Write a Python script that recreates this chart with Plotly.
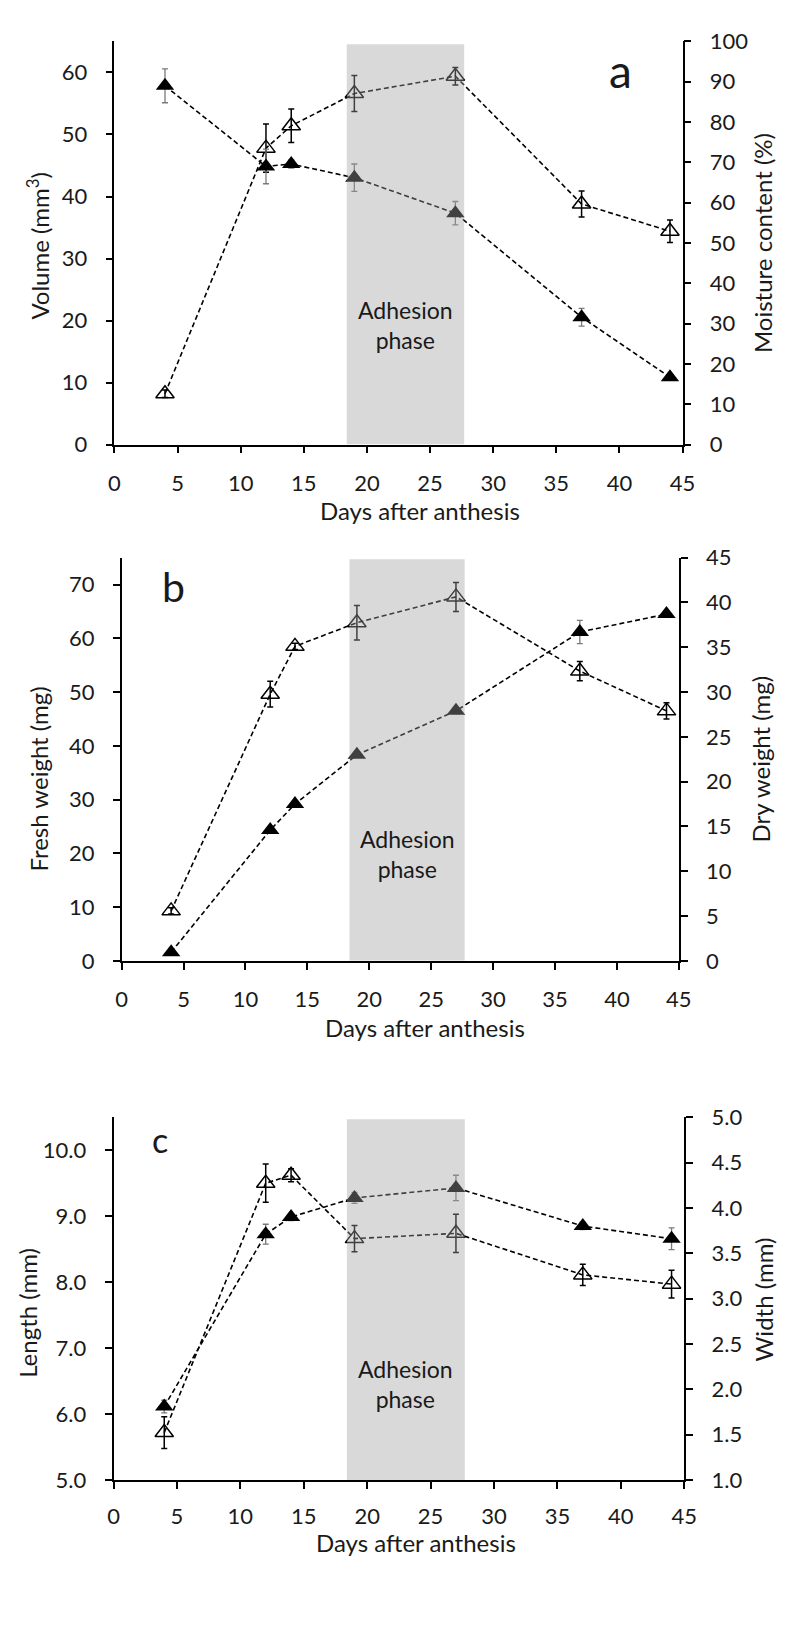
import plotly.graph_objects as go

# ---------------- data ----------------
days = [4, 12, 14, 19, 27, 37, 44]
x_ticks = [0, 5, 10, 15, 20, 25, 30, 35, 40, 45]

# panel a
volume = [8.2, 47.8, 51.4, 56.6, 59.4, 38.8, 34.4]          # open, left axis (mm3)
volume_err = [0.6, 3.9, 2.7, 2.9, 1.4, 2.1, 1.8]
moisture = [89.0, 69.0, 69.6, 66.2, 57.4, 31.6, 16.7]       # filled, right axis (%)
moisture_err = [4.2, 4.3, 1.0, 3.4, 2.9, 2.2, 0.6]

# panel b
fresh = [9.3, 49.6, 58.5, 62.9, 67.7, 53.9, 46.5]           # open, left axis (mg)
fresh_err = [0.6, 2.4, 0.6, 3.2, 2.7, 1.8, 1.5]
dry = [0.95, 14.6, 17.5, 23.0, 27.9, 36.7, 38.7]            # filled, right axis (mg)
dry_err = [0.2, 0.3, 0.3, 0.3, 0.3, 1.3, 0.3]

# panel c
length = [5.72, 9.50, 9.62, 8.66, 8.74, 8.11, 7.97]         # open, left axis (mm)
length_err = [0.24, 0.29, 0.10, 0.20, 0.29, 0.16, 0.21]
width = [1.81, 3.71, 3.90, 4.11, 4.22, 3.80, 3.66]          # filled, right axis (mm)
width_err = [0.07, 0.11, 0.04, 0.06, 0.14, 0.04, 0.12]

adhesion_phase = [18.4, 27.7]

# ---------------- page geometry ----------------
# the page body has an 8px default margin: size the figure so page == window
PAGE_W, PAGE_H = 795, 1642
OFF = 8
W, H = PAGE_W - 2 * OFF, PAGE_H - 2 * OFF
FONT = "Lato, Carlito, Calibri, 'Open Sans', sans-serif"
TXT = "#1a1a1a"


def px_y(py):
    return 1 - (py - OFF) / H


def px_x(px):
    return (px - OFF) / W


fig = go.Figure()


def add_pair(xa, ya_left, ya_right, open_y, open_err, fill_y, fill_err):
    fig.add_trace(go.Scatter(
        x=days, y=fill_y, xaxis=xa, yaxis=ya_right, mode="lines+markers",
        line=dict(color="black", width=1.6, dash="5px,3px"),
        marker=dict(symbol="triangle-up", size=16, color="black"),
        error_y=dict(type="data", array=fill_err, visible=True, color="#7a7a7a",
                     thickness=1.3, width=3),
        showlegend=False))
    fig.add_trace(go.Scatter(
        x=days, y=open_y, xaxis=xa, yaxis=ya_left, mode="lines+markers",
        line=dict(color="black", width=1.6, dash="5px,3px"),
        marker=dict(symbol="triangle-up-open", size=16, color="black",
                    line=dict(color="black", width=1.5)),
        error_y=dict(type="data", array=open_err, visible=True, color="black",
                     thickness=1.5, width=3),
        showlegend=False))


add_pair("x", "y", "y2", volume, volume_err, moisture, moisture_err)
add_pair("x2", "y3", "y4", fresh, fresh_err, dry, dry_err)
add_pair("x3", "y5", "y6", length, length_err, width, width_err)

tickfont = dict(family=FONT, size=22, color=TXT)
common_axis = dict(showgrid=False, zeroline=False, showline=True, linecolor="black",
                   linewidth=1.6, ticks="outside", ticklen=7, tickwidth=1.6,
                   tickcolor="black", tickfont=tickfont)

# panel geometry in page pixels: (x_left, x_right, y_bottom, y_top)
geo = {
    "a": (111, 693.3, 437.7, 27.8),
    "b": (118.3, 689.5, 962.7, 552.7),
    "c": (110, 695, 1490.7, 1121.7),
}


def xdom(g):
    return [px_x(g[0]), px_x(g[1])]


def ydom(g):
    return [px_y(g[2]), px_y(g[3])]


xaxis_common = dict(common_axis, range=[0, 45], tickvals=x_ticks, ticklabelstandoff=11)
yaxis_common = dict(common_axis, ticklabelstandoff=14)

fig.update_layout(
    xaxis=dict(xaxis_common, domain=xdom(geo["a"]), anchor="y"),
    yaxis=dict(yaxis_common, domain=ydom(geo["a"]), anchor="x", range=[0, 65], dtick=10, tick0=0),
    yaxis2=dict(yaxis_common, overlaying="y", side="right", anchor="x", range=[0, 100], dtick=10, tick0=0),
    xaxis2=dict(xaxis_common, domain=xdom(geo["b"]), anchor="y3"),
    yaxis3=dict(yaxis_common, domain=ydom(geo["b"]), anchor="x2", range=[0, 75], dtick=10, tick0=0),
    yaxis4=dict(yaxis_common, overlaying="y3", side="right", anchor="x2", range=[0, 45], dtick=5, tick0=0),
    xaxis3=dict(xaxis_common, domain=xdom(geo["c"]), anchor="y5", ticklabelstandoff=9),
    yaxis5=dict(yaxis_common, domain=ydom(geo["c"]), anchor="x3", range=[5, 10.5], dtick=1, tick0=5,
                tickformat=".1f"),
    yaxis6=dict(yaxis_common, overlaying="y5", side="right", anchor="x3", range=[1, 5], dtick=0.5, tick0=1,
                tickformat=".1f"),
    width=W, height=H,
    margin=dict(l=0, r=0, t=0, b=0),
    paper_bgcolor="white", plot_bgcolor="white",
    font=dict(family=FONT, color=TXT),
)

# shaded adhesion phase (semi-transparent, above the traces)
shade = dict(type="rect", layer="above", line=dict(width=0),
             fillcolor="rgba(160,160,160,0.4)")
fig.add_shape(shade, xref="x", yref="y", x0=adhesion_phase[0], x1=adhesion_phase[1], y0=0, y1=64.55)
fig.add_shape(shade, xref="x2", yref="y3", x0=adhesion_phase[0], x1=adhesion_phase[1], y0=0, y1=74.7)
fig.add_shape(shade, xref="x3", yref="y5", x0=adhesion_phase[0], x1=adhesion_phase[1], y0=5, y1=10.47)

mid = (adhesion_phase[0] + adhesion_phase[1]) / 2
ann_font = dict(family=FONT, size=23, color=TXT)
for xr, yc in (("x", 316), ("x2", 854), ("x3", 1393)):
    fig.add_annotation(text="Adhesion<br>phase", xref=xr, x=mid, yref="paper", y=px_y(yc),
                       showarrow=False, font=ann_font, xanchor="center", yanchor="middle")

# axis titles
title_font = dict(family=FONT, size=24, color=TXT)
titles = [
    ("Volume (mm<sup>3</sup>)", 33, 235, -90),
    ("Moisture content (%)", 775, 232.5, -90),
    ("Fresh weight (mg)", 33, 778, -90),
    ("Dry weight (mg)", 773, 757.5, -90),
    ("Length (mm)", 22, 1321, -90),
    ("Width (mm)", 776, 1306.7, -90),
    ("Days after anthesis", 424, 505, 0),
    ("Days after anthesis", 429, 1030, 0),
    ("Days after anthesis", 420, 1554, 0),
]
for t, xp, yp, ang in titles:
    fig.add_annotation(text=t, xref="paper", yref="paper", x=px_x(xp), y=px_y(yp),
                       textangle=ang, showarrow=False, font=title_font,
                       xanchor="center", yanchor="middle")

# panel letters
for t, xp, yp, sz in (("a", 630, 57, 46), ("b", 171, 582, 41), ("c", 158, 1144, 34)):
    fig.add_annotation(text=t, xref="paper", yref="paper", x=px_x(xp), y=px_y(yp),
                       showarrow=False, font=dict(family=FONT, size=sz, color=TXT),
                       xanchor="center", yanchor="middle")

fig.write_html("out.html")
